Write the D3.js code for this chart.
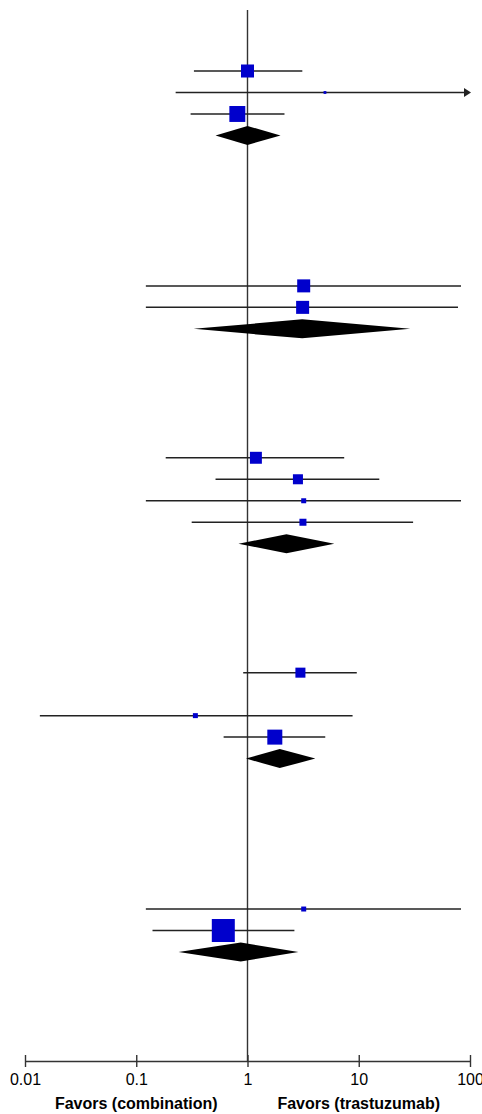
<!DOCTYPE html>
<html>
<head>
<meta charset="utf-8">
<script src="https://cdn.jsdelivr.net/npm/d3@7/dist/d3.min.js"></script>
<style>
  html, body { margin: 0; padding: 0; background: #fff; }
  svg { display: block; }
</style>
</head>
<body>
<svg id="chart" width="482" height="1114"></svg>
<script>
// ---- Data ----
// Individual studies: row index, odds-ratio estimate, CI lower, CI upper, weight (%)
const studyRows = [0, 1, 2, 10, 11, 18, 19, 20, 21, 28, 30, 31, 39, 40];
const studyEst  = [1.00, 4.97, 0.81, 3.20, 3.13, 1.19, 2.84, 3.20, 3.15, 2.99, 0.34, 1.76, 3.20, 0.606];
const studyLo   = [0.33, 0.226, 0.308, 0.122, 0.122, 0.184, 0.516, 0.122, 0.315, 0.915, 0.0136, 0.61, 0.122, 0.14];
const studyHi   = [3.11, 250, 2.15, 83, 78, 7.4, 15.3, 83, 30.8, 9.6, 8.8, 5.0, 83, 2.64];
const studyWt   = [32, 1.5, 48, 32, 32, 27, 19, 4.7, 9.3, 19, 4.7, 42.5, 4.7, 100];

// Pooled (subgroup) estimates: row index, estimate, lower, upper
const poolRows = [3, 12, 22, 32, 41];
const poolEst  = [1.00, 3.10, 2.24, 1.95, 0.87];
const poolLo   = [0.516, 0.328, 0.83, 0.97, 0.24];
const poolHi   = [1.98, 29, 6.03, 4.07, 2.87];

// Axis
const tickValues = [0.01, 0.1, 1, 10, 100];
const tickLabels = ["0.01", "0.1", "1", "10", "100"];
const favorLabels = ["Favors (combination)", "Favors (trastuzumab)"];
const favorAt = [0.1, 10];

// ---- Scales ----
const svg = d3.select("#chart");
const x = d3.scaleLog().domain([0.01, 100]).range([25, 470]);
const y = d3.scaleLinear().domain([0, 41]).range([71, 952]);
const sz = d3.scaleSqrt().domain([0, 100]).range([0, 23]);
const axisY = 1061;
const lineColor = "#222";
const boxColor = "#0000cc";

// reference line at 1
svg.append("line")
  .attr("x1", x(1)).attr("x2", x(1))
  .attr("y1", 10).attr("y2", axisY)
  .attr("stroke", "#333").attr("stroke-width", 1.4);

// CI lines
const studies = studyRows.map((r, i) => ({
  row: r, est: studyEst[i], lo: studyLo[i], hi: studyHi[i], wt: studyWt[i]
}));
const xmax = x.domain()[1];

const g = svg.append("g");
g.selectAll("line.ci").data(studies).join("line")
  .attr("class", "ci")
  .attr("x1", d => x(Math.max(d.lo, 0.01)))
  .attr("x2", d => d.hi > xmax ? x(xmax) - 5 : x(d.hi))
  .attr("y1", d => y(d.row)).attr("y2", d => y(d.row))
  .attr("stroke", lineColor).attr("stroke-width", 1.5);

// arrows for CIs beyond axis limit
g.selectAll("path.arrow").data(studies.filter(d => d.hi > xmax)).join("path")
  .attr("class", "arrow")
  .attr("d", d => {
    const xe = x(xmax) + 1, yy = y(d.row);
    return `M${xe},${yy} L${xe - 7},${yy - 4.5} L${xe - 7},${yy + 4.5} Z`;
  })
  .attr("fill", lineColor);

// squares
g.selectAll("rect.box").data(studies).join("rect")
  .attr("class", "box")
  .attr("x", d => x(d.est) - sz(d.wt) / 2)
  .attr("y", d => y(d.row) - Math.max(sz(d.wt), 2) / 2)
  .attr("width", d => Math.max(sz(d.wt), 2))
  .attr("height", d => Math.max(sz(d.wt), 2))
  .attr("fill", boxColor);

// diamonds
const pools = poolRows.map((r, i) => ({ row: r, est: poolEst[i], lo: poolLo[i], hi: poolHi[i] }));
g.selectAll("path.diamond").data(pools).join("path")
  .attr("class", "diamond")
  .attr("d", d => {
    const yy = y(d.row), h = 9.5;
    return `M${x(d.lo)},${yy} L${x(d.est)},${yy - h} L${x(d.hi)},${yy} L${x(d.est)},${yy + h} Z`;
  })
  .attr("fill", "#000");

// x axis
const axis = d3.axisBottom(x)
  .tickValues(tickValues)
  .tickFormat((d, i) => tickLabels[i])
  .tickSize(6)
  .tickSizeOuter(0);
const ax = svg.append("g")
  .attr("transform", `translate(0,${axisY})`)
  .call(axis);
ax.select(".domain").attr("stroke", "#333").attr("stroke-width", 1.4);
ax.selectAll(".tick line").attr("stroke", "#333").attr("stroke-width", 1.4).attr("y1", -6);
ax.selectAll(".tick text")
  .attr("y", 24).attr("dy", 0)
  .attr("font-family", "Liberation Sans, Arial, sans-serif")
  .attr("font-size", 16).attr("fill", "#000");

// favors labels
svg.selectAll("text.favor").data(favorLabels).join("text")
  .attr("class", "favor")
  .attr("x", (d, i) => x(favorAt[i]))
  .attr("y", 1109)
  .attr("text-anchor", "middle")
  .attr("font-family", "Liberation Sans, Arial, sans-serif")
  .attr("font-weight", "bold")
  .attr("font-size", 16)
  .attr("fill", "#000")
  .text(d => d);
</script>
</body>
</html>
